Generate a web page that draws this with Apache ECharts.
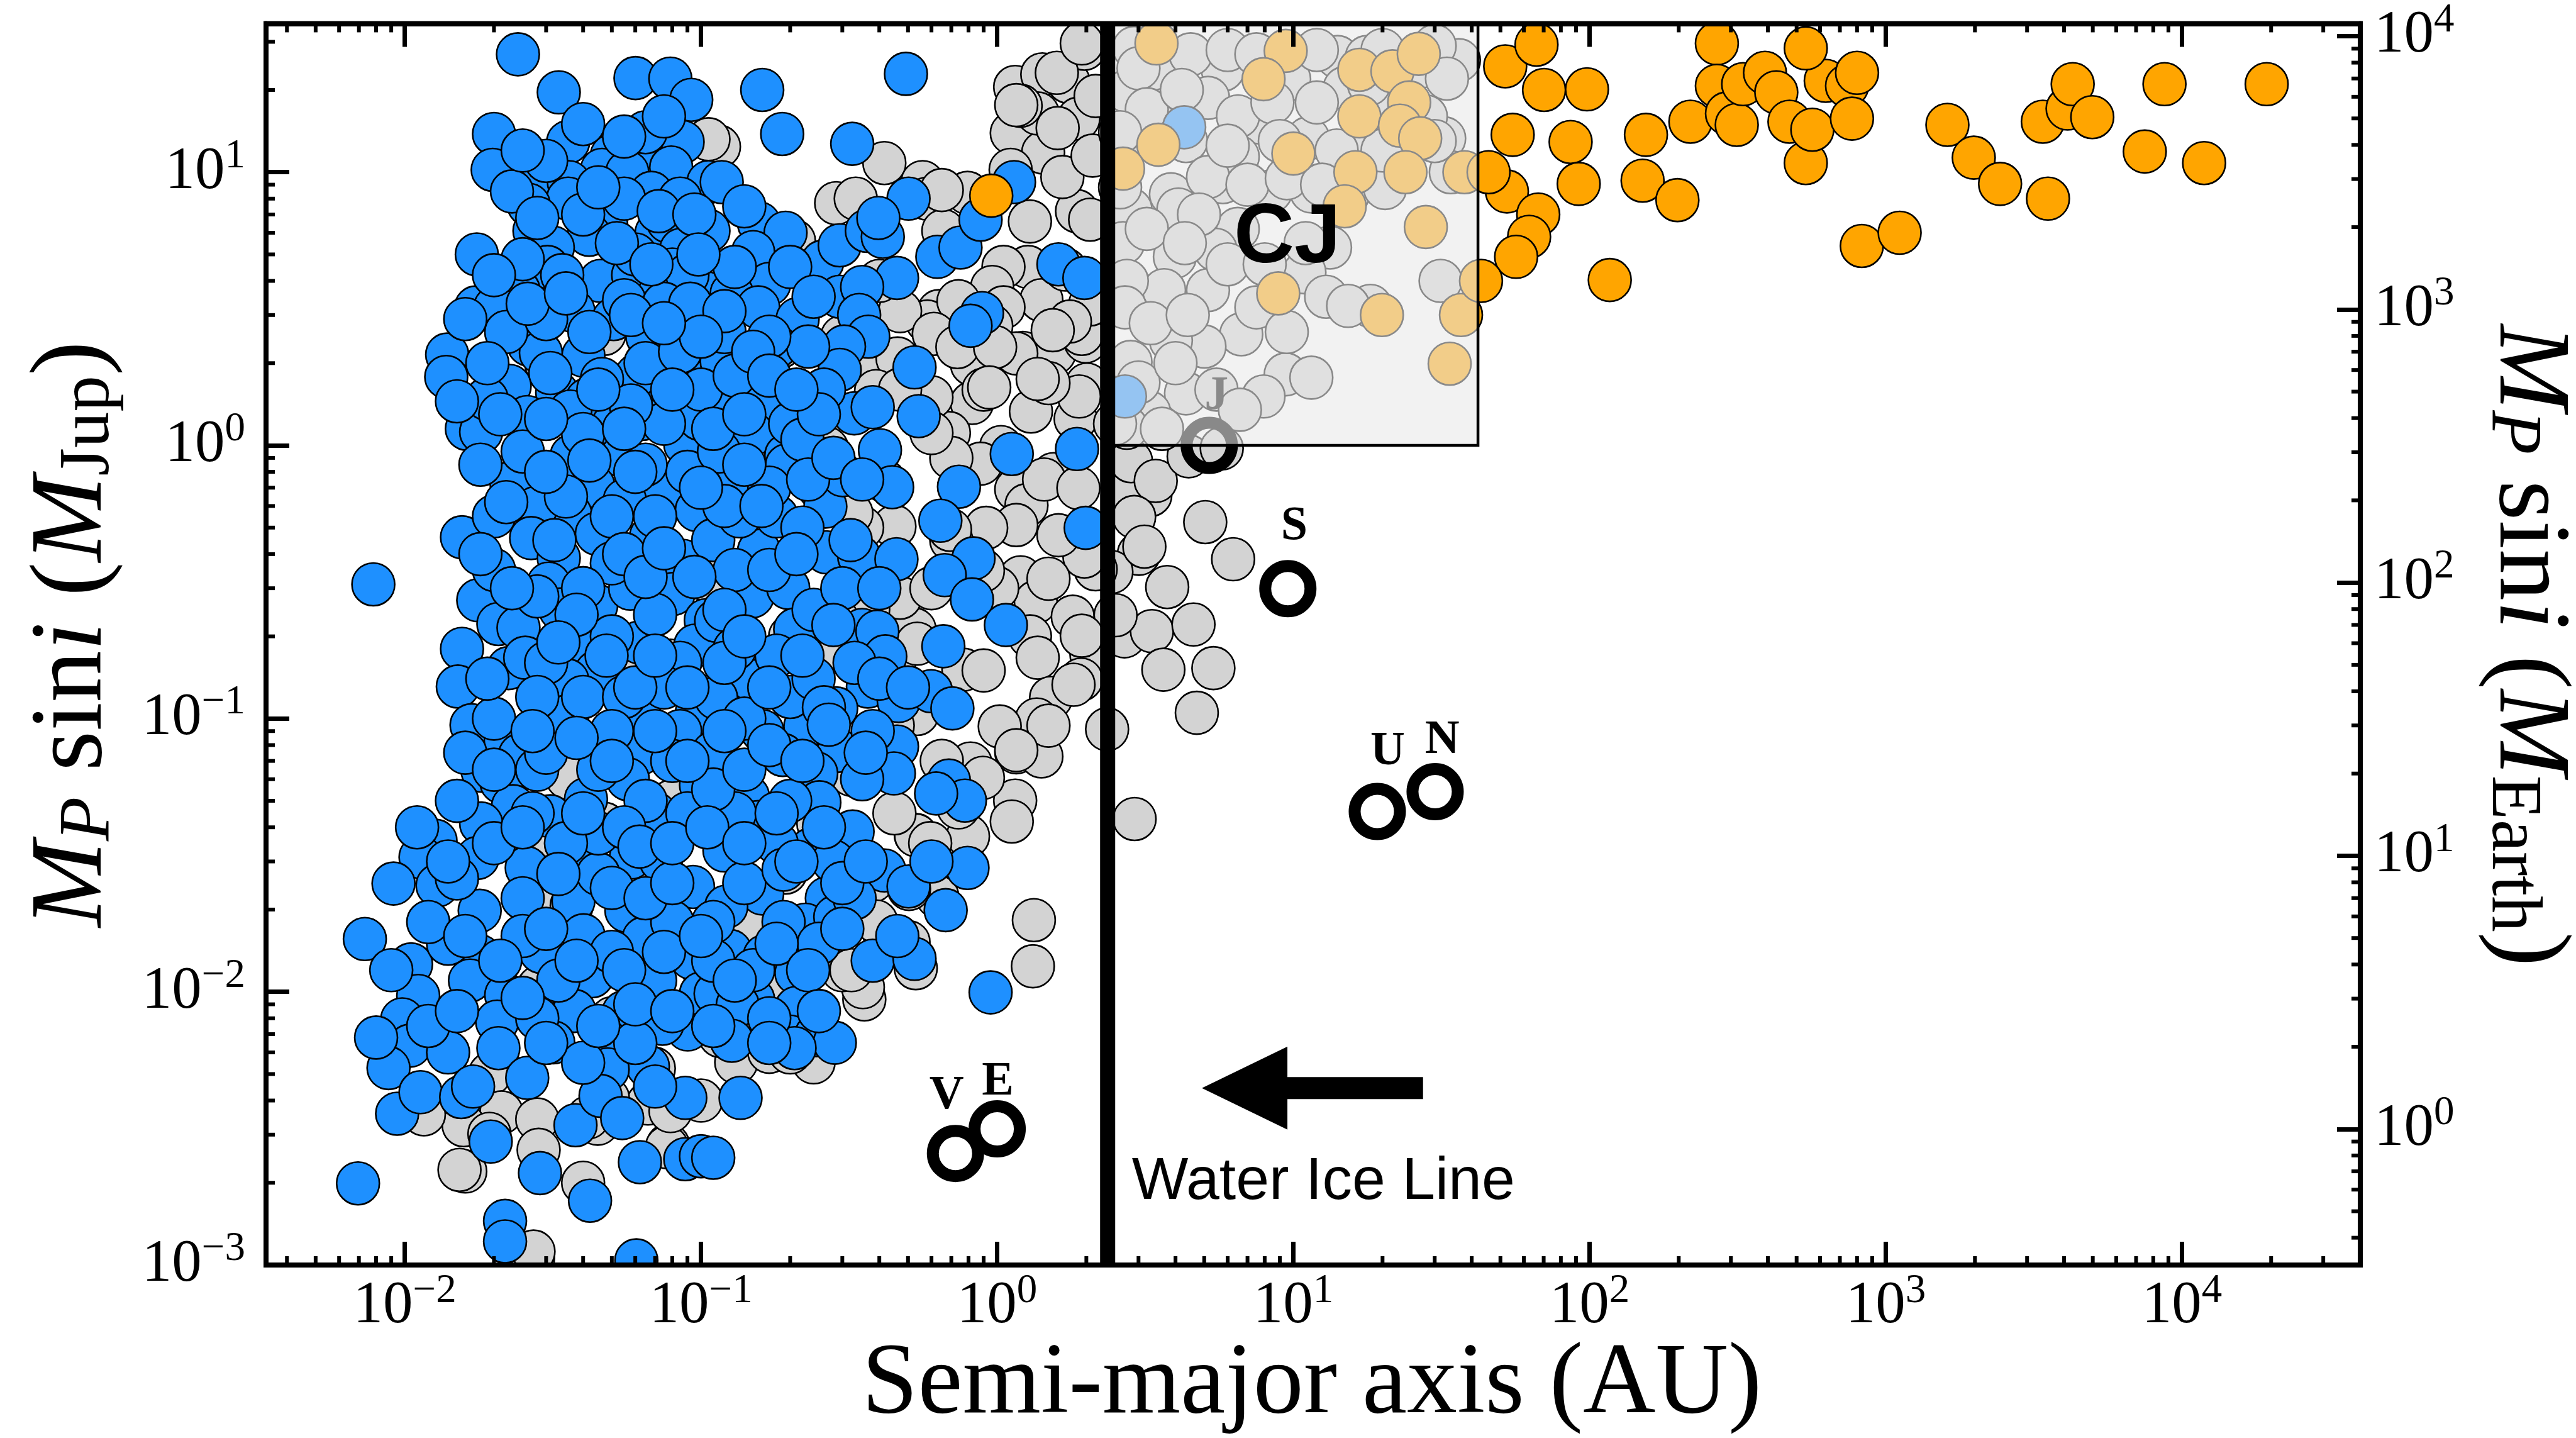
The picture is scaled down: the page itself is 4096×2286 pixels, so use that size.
<!DOCTYPE html>
<html><head><meta charset="utf-8">
<script src="https://cdn.jsdelivr.net/npm/echarts@6/dist/echarts.min.js"></script>
<style>html,body{margin:0;padding:0;background:#fff}#c{width:4096px;height:2286px}</style>
</head><body><div id="c"></div>
<script>
// ---------------- DATA ----------------
// semi-major axis (AU), M sin i (M_Jup)
const X_MIN = 0.0034, X_MAX = 40000;
const Y_MIN = 0.001, Y_MAX = 35;
const MJUP_IN_MEARTH = 317.83;
const xTickExps = [-2, -1, 0, 1, 2, 3, 4];
const yTickExps = [-3, -2, -1, 0, 1];
const yEarthTickExps = [0, 1, 2, 3, 4];
const ICE_LINE_AU = 2.36;
const cjBoxAU = [2.36, 42];
const cjBoxMJup = [1, 35];
const planetNames = ['V', 'E', 'J', 'S', 'U', 'N'];
const planetAU = [0.723, 1.0, 5.2, 9.58, 19.2, 30.1];
const planetMJup = [0.00256, 0.00315, 1.0, 0.299, 0.0457, 0.054];
const planetLabelAU = [0.675, 1.005, 5.5, 10.07, 20.8, 31.8];
const planetLabelMJup = [0.00415, 0.00466, 1.51, 0.505, 0.0755, 0.0832];
const cjLabel = ['CJ', 9.54, 5.67];
const iceLabel = ['Water Ice Line', 2.85, 0.00201];
const arrowAU = [27.4, 4.91];
const arrowMJup = 0.00444;

const graySample = [
[0.115,12.4],[0.416,10.8],[0.560,9.2],[0.286,7.7],[0.333,8.0],[0.581,8.0],[0.794,8.4],[0.658,6.1],
[1.15,20.5],[1.42,22.8],[1.74,21.4],[1.97,28.3],[1.12,13.9],[1.43,11.8],[1.88,15.7],[1.37,16.4],
[1.11,10.2],[1.86,7.2],[1.29,6.6],[1.66,9.6],[1.27,4.5],[1.05,4.5],[0.962,3.8],[1.41,3.4],[1.05,3.2],
[1.22,2.18],[1.56,2.18],[1.99,2.4],[0.822,1.98],[0.635,3.1],[0.581,2.84],[0.822,1.43],[1.30,1.33],
[1.84,1.25],[0.687,1.11],[0.220,1.43],[0.220,1.10],[0.206,5.6],[0.470,3.1],[0.385,1.98],[0.186,2.3],
[2.01,1.67],[1.03,0.986],[1.89,1.51],[1.16,0.69],[1.55,0.785],[2.15,19],[1.2,17.5],[1.6,14.5],
[1.256,0.604],[1.16,0.511],[1.44,0.75],[1.88,0.698],[1.20,0.329],[1.35,0.267],[1.80,0.236],[1.29,0.200],
[1.37,0.167],[2.08,0.172],[1.92,0.139],[1.52,0.119],[1.36,0.0993],[1.02,0.0936],[1.16,0.0753],[1.41,0.0727],
[0.813,0.0685],[1.15,0.0501],[1.12,0.042],[0.797,0.0371],[0.531,0.0375],[0.537,0.104],[0.526,0.212],
[0.470,0.277],[0.367,0.251],[0.288,0.231],[0.266,0.179],[0.450,0.505],[0.769,0.151],[0.918,0.499],[0.879,0.857],
[2.35,0.0914],[2.91,0.0429],[2.69,0.200],[3.33,0.209],[3.64,0.151],[3.01,0.401],[2.51,0.239],[2.43,0.344],
[3.29,0.658],[2.69,0.690],[2.15,0.352],[1.97,0.392],[1.61,0.469],
[2.83,0.875],[3.43,0.741],[4.43,0.912],[5.73,0.975],[6.26,0.383],[3.75,0.303],[4.60,0.221],[4.72,0.105],
[5.37,0.153],[2.90,0.547],[5.04,0.524],[3.14,0.426],
[0.0160,0.00220],[0.0194,0.00501],[0.0212,0.00362],[0.0158,0.00325],[0.0280,0.00341],[0.0448,0.00329],
[0.0662,0.0039],[0.0774,0.00275],[0.0271,0.00106],[0.0293,0.0374],
[0.532,0.0374],[1.33,0.0183],[1.32,0.0124],[0.356,0.00938],[0.416,0.0163],[0.502,0.0152],[0.531,0.0122],
[0.380,0.0255],[0.628,0.0223],[0.240,0.00552],[0.1315,0.00552],
[0.0153,0.00223],[0.0272,0.00112],[0.0767,0.0027],[0.0789,0.00366],[0.0116,0.00356],[0.352,0.0104],
[0.249,0.00851],[0.170,0.00603],[0.193,0.0123],[0.0485,0.00407],
[0.106,13.2],[0.108,0.98],[0.0354,0.0607],[0.0296,0.0375],[0.04,0.3],[0.06,0.15],[0.08,0.05],[0.03,0.02],
[0.05,0.008],[0.07,0.03],[0.1,0.1],[0.12,0.3],[0.09,1.5],[0.06,4],[0.03,2],[0.15,0.02],[0.2,0.2],[0.25,0.7],
[0.3,2.5],[0.4,4],[0.35,0.5],[0.45,0.15],[0.6,0.3],[0.7,0.9],[0.9,1.6],[0.6,1.5],[0.9,0.15],[0.7,0.45],
[1.0,0.3],[0.65,0.07],[0.45,0.045],[0.3,0.012],[0.2,0.006],[0.1,0.004],[0.04,0.002],
[0.650,8.6],[1.16,17.6],[1.59,23.1],[1.93,29.6],[2.06,6.7],[1.70,4.4],[1.93,2.56],[1.49,1.69],[1.16,2.17],
[0.955,2.74],[0.740,3.37],[0.611,2.56],[0.461,2.08],[0.390,1.58],[0.266,0.977],[0.416,0.741],[0.693,0.491],
[0.895,0.348],[1.49,0.325],[1.93,0.201],[1.81,0.133],[1.49,0.0942],[1.16,0.0766],[0.895,0.0607],[0.740,0.0473],
[0.594,0.0350],[0.504,0.0238],[0.390,0.0181],[0.322,0.0120],[0.170,0.0104],[0.116,0.0069],[0.0693,0.00524],
[0.0416,0.00347],[0.322,0.564],[0.219,0.428],[0.537,0.188],[0.444,0.0942],[0.322,0.0623],[0.249,0.0412],
[0.193,0.0273],[0.140,0.0181],[0.102,0.0120],[0.0789,0.00793],[0.0537,0.00601],[0.0283,0.00264],[0.0193,0.00302],
[0.170,1.12],[0.131,0.647],[0.102,0.325],[0.0789,0.163],[0.0611,0.082],[0.0472,0.0412],[0.0366,0.0207],
[0.0283,0.0104],[0.0283,0.163],[0.0366,0.647],[0.0472,2.56],[0.0693,5.1],
[2.10,11.5],[2.06,3.28],[1.76,2.84],[1.54,2.64],[0.734,2.29],[0.984,2.29],[1.37,1.75],[0.94,1.63],[0.60,1.11],[0.47,1.6],
[3.45,23.7],[5.78,23.7],[3.66,16.9],[5.15,18.7],[7.69,15.2],[9.68,21.9],[11.2,13.3],[14.1,26.4],[17.7,26.4],
[14.9,20.3],[36.2,25.7],[2.90,28.5],[2.74,19.8],[20.4,19.2],[32.3,13.3],[17.2,13.3],[2.99,13.3],[4.34,13.0],
[6.49,11.4],[5.78,9.2],[3.86,8.3],[5.15,9.6],[8.39,8.5],[11.5,8.5],[15.3,8.3],[20.4,8.75],[22.9,11.7],
[2.82,7.3],[4.09,7.3],[6.49,6.2],[13.3,5.3],[10.9,4.3],[2.66,5.5],[3.98,4.9],[5.46,5.2],[3.66,3.7],[5.15,3.7],
[2.74,4.0],[12.9,3.5],[18.2,3.24],[31.4,4.0],[6.67,2.55],[5.01,2.30],[3.86,2.42],[2.82,2.02],[9.42,1.82],
[11.5,1.77],[7.93,1.51],[4.34,1.55],[3.26,1.32],[2.74,1.16],[15.3,3.24],
[3.0,24],[4.5,27],[6.0,28],[7.5,27],[12,28],[20,28],[30,29],[3.2,17],[4.2,20],[6.5,16],[8.5,18],[12,18],
[18,21],[26,24],[33,22],[2.6,14],[6,12.5],[9,13],[14,12],[20,12],[28,16],[34,10],[30,13],[2.6,8.8],[4.8,7],
[7,9],[9.5,9.5],[12.5,9],[3.2,6.2],[4.3,5.5],[6,4.6],[8,4.6],[11,5.5],[2.7,3.2],[3.3,2.8],[4.4,3.0],[7.5,3.2],
[9.5,2.6],[3.0,1.7],[4.0,2.0],[5.5,1.6],[6.6,1.35],[2.5,1.2],[3.6,1.15]
];

const blueSample = [
[0.0241,27.0],[0.0331,19.6],[0.0601,22.1],[0.0788,22.0],[0.0927,18.4],[0.020,13.8],[0.0198,10.2],[0.0356,12.9],
[0.050,11.5],[0.0644,12.3],[0.0867,12.9],[0.0463,10.2],[0.0293,9.7],[0.0358,9.2],[0.0564,10.0],[0.0793,10.4],
[0.106,9.2],[0.068,8.4],[0.0356,8.0],[0.0262,7.6],[0.0463,6.9],[0.0479,6.4],[0.0274,6.1],[0.0419,5.9],
[0.0316,5.3],[0.0708,6.0],[0.0774,6.6],[0.0857,5.2],[0.106,6.1],[0.0175,5.0],[0.0303,4.5],[0.0458,4.0],
[0.059,4.2],[0.080,4.4],[0.105,3.6],[0.0242,3.7],[0.0174,3.2],[0.0202,3.2],[0.0371,3.1],[0.0507,2.9],
[0.0724,3.6],[0.0818,3.0],[0.0659,2.5],[0.0139,2.15],[0.0138,1.78],[0.0262,2.34],[0.0288,2.18],[0.0401,2.13],
[0.0226,1.65],[0.0327,1.56],[0.0412,1.47],[0.0885,1.93],[0.071,1.45],[0.0162,1.15],[0.0181,1.12],[0.0259,1.27],
[0.0362,1.33],[0.0505,1.19],[0.0366,0.916],[0.0885,1.01],[0.0634,1.25],[0.099,1.25],[0.0542,0.916],[0.108,2.9],
[0.0946,2.4],[0.0605,1.8],[0.0463,1.75],[0.0189,1.48],[0.031,1.84],
[0.492,22.9],[0.161,20.0],[0.188,13.8],[0.324,12.7],[0.1175,9.2],[0.157,6.5],[0.193,6.0],[0.150,5.1],
[0.257,4.7],[0.294,5.4],[0.363,6.1],[0.411,5.8],[0.502,8.0],[0.397,6.8],[0.628,4.9],[0.752,5.3],[0.879,6.7],
[1.14,9.2],[0.459,4.1],[0.170,3.9],[0.127,3.6],[0.156,3.2],[0.212,2.9],[0.294,3.5],[0.350,3.8],[0.342,3.0],
[0.367,2.5],[0.304,2.3],[0.294,1.89],[1.61,4.6],[1.97,4.1],[0.889,3.05],[0.813,2.74],[0.526,1.93],[0.1175,2.03],
[0.161,1.41],[0.329,1.31],[0.380,1.38],[0.543,1.28],[0.150,1.10],[0.194,0.92],[0.402,0.96],[1.12,0.93],[1.86,0.97],
[0.0229,0.73],[0.0433,0.71],[0.0757,0.69],[0.0968,0.58],[0.0362,0.56],[0.0277,0.59],[0.0553,0.63],[0.0267,0.458],
[0.0445,0.475],[0.0678,0.464],[0.0156,0.461],[0.00783,0.310],[0.0331,0.387],[0.0867,0.378],[0.0306,0.312],
[0.0177,0.271],[0.0335,0.251],[0.0443,0.260],[0.0577,0.299],[0.0807,0.286],[0.1038,0.229],[0.0207,0.222],
[0.0242,0.215],[0.0156,0.180],[0.0224,0.153],[0.0255,0.167],[0.0378,0.193],[0.0619,0.190],[0.0957,0.185],
[0.0151,0.131],[0.0443,0.148],[0.0354,0.138],[0.0168,0.0946],[0.0354,0.102],[0.0619,0.104],[0.1035,0.120],
[0.0968,0.105],[0.0219,0.083],[0.0245,0.0736],[0.0473,0.083],[0.0626,0.0745],[0.0183,0.0644],[0.0212,0.0585],
[0.0232,0.0478],[0.0566,0.060],[0.0409,0.0507],[0.100,0.0571],[0.0757,0.0394],[0.031,0.0439],[0.0181,0.0413],
[0.0127,0.0357],[0.0113,0.0311],[0.00916,0.0249],[0.0176,0.0309],[0.0258,0.0284],[0.0371,0.0303],[0.058,0.031],
[0.0733,0.0302],[0.094,0.0242],
[0.1315,0.738],[0.195,0.845],[0.263,0.597],[0.301,0.778],[0.442,0.703],[0.743,0.706],[0.643,0.530],[1.99,0.499],
[0.157,0.411],[0.265,0.406],[0.342,0.392],[0.457,0.383],[0.832,0.386],[0.665,0.335],[0.822,0.273],[1.07,0.220],
[0.149,0.280],[0.197,0.301],[0.1125,0.228],[0.208,0.212],[0.350,0.211],[0.394,0.208],[0.419,0.169],[0.658,0.184],
[0.150,0.137],[0.1125,0.119],[0.366,0.131],[0.286,0.109],[0.465,0.116],[0.598,0.126],[0.706,0.109],[0.161,0.090],
[0.225,0.0936],[0.292,0.0762],[0.459,0.079],[0.189,0.0736],[0.448,0.063],[0.687,0.0593],[0.778,0.0501],
[0.622,0.0532],[0.245,0.063],[0.251,0.0494],[0.144,0.0519],[0.156,0.0418],[0.325,0.0386],[0.120,0.0329],
[0.416,0.0278],[0.502,0.0243],[0.794,0.0284],
[0.0129,0.0245],[0.0179,0.0198],[0.0371,0.0215],[0.056,0.0198],[0.00733,0.0156],[0.0105,0.0126],[0.0179,0.0135],
[0.0288,0.0140],[0.0401,0.0161],[0.0641,0.0157],[0.0927,0.0133],[0.0429,0.0114],[0.0111,0.00966],[0.0166,0.0110],
[0.022,0.00973],[0.0098,0.00793],[0.0104,0.00635],[0.0205,0.00778],[0.0207,0.00622],[0.0374,0.00851],
[0.0548,0.00841],[0.0317,0.00653],[0.0484,0.00656],[0.0902,0.00728],[0.0741,0.00764],[0.0662,0.00533],
[0.0484,0.0052],[0.0885,0.00409],[0.100,0.00985],[0.00881,0.00526],[0.00942,0.00358],[0.0113,0.00429],
[0.0155,0.00412],[0.0259,0.00484],[0.0377,0.00325],[0.0458,0.00416],[0.0542,0.00345],[0.0195,0.00283],
[0.0622,0.00238],[0.0885,0.00244],[0.100,0.00250],[0.00695,0.00199],[0.0286,0.00217],[0.0422,0.00172],
[0.0218,0.00145],[0.0218,0.00122],[0.0605,0.00104],
[0.235,0.0332],[0.670,0.0199],[0.161,0.0229],[0.1217,0.0205],[0.266,0.0220],[0.225,0.0176],[0.284,0.0188],
[0.1256,0.0141],[0.164,0.0135],[0.210,0.0117],[0.380,0.0130],[0.526,0.0132],[0.950,0.00995],[0.112,0.00985],
[0.150,0.00938],[0.210,0.00873],[0.133,0.00894],[0.127,0.00662],[0.199,0.00686],[0.245,0.00694],[0.283,0.00651],
[0.207,0.00622],[0.136,0.00409],[0.110,0.00247],
[4.28,14.6],[2.70,1.51],
[0.09,0.8],[0.065,0.85],[0.11,0.45],[0.05,0.37],[0.12,1.5],[0.135,0.55],[0.18,0.55],[0.115,0.95],[0.2,1.2],
[0.13,4.5],[0.12,2.6],[0.18,2.3],[0.14,7.5],[0.015,0.05],[0.028,0.065],[0.045,0.027],[0.08,0.018],[0.07,0.045],
[0.045,0.038],[0.022,2.6],[0.019,2.0],[0.03,2.9],[0.055,3.4],[0.065,2.0],[0.085,2.2],[0.04,1.1],[0.025,0.95],
[0.075,1.2],[0.1,1.6],[0.058,1.4],[0.034,4.2],[0.025,4.8],[0.06,5.0],[0.09,4.2],[0.075,3.3],[0.04,7.0],[0.055,8.0],
[0.085,8.0],[0.03,11],[0.065,14],[0.02,0.35],[0.028,0.28],[0.04,0.3],[0.05,0.2],[0.07,0.24],[0.085,0.16],
[0.03,0.16],[0.04,0.12],[0.055,0.12],[0.075,0.13],[0.085,0.09],[0.045,0.065],[0.03,0.075],[0.065,0.05],[0.08,0.07],
[0.02,0.1],[0.05,0.09],[0.09,0.045],[0.027,0.045],[0.035,0.035],[0.02,0.55],[0.06,0.8],[0.035,0.65],
[0.015,0.026],[0.025,0.022],[0.033,0.027],[0.05,0.024],[0.065,0.022],[0.08,0.025],[0.025,0.016],[0.05,0.014],
[0.07,0.011],[0.033,0.011],[0.014,0.015],[0.06,0.0065],[0.028,0.008],[0.04,0.0055],[0.07,0.0045],[0.014,0.006],
[0.017,0.0045],[0.12,0.6],[0.17,0.7],[0.22,0.5],[0.13,0.35],[0.18,0.17],[0.24,0.25],[0.3,0.3],[0.13,0.18],
[0.2,0.12],[0.11,0.075],[0.14,0.1],[0.24,0.14],[0.33,0.16],[0.13,0.045],[0.2,0.05],[0.35,0.06],[0.18,0.035],
[0.11,0.055],[0.38,0.09],[0.14,0.025],[0.19,0.028],[0.28,0.03],[0.11,0.018],[0.19,0.018],[0.33,0.022],
[0.15,0.012],[0.25,0.015],[0.17,0.008],[0.11,0.013],[0.2,4.5],[0.24,3.5],[0.23,2.3],[0.17,2.5],[0.26,1.6],
[0.13,1.8],[0.22,1.05],
[0.023,8.5],[0.045,8.8],[0.072,7.2],[0.095,7.0],[0.028,6.8],[0.052,5.5],[0.098,5.0],
[0.016,2.9],[0.02,4.2],[0.026,3.3],[0.035,3.6],[0.042,2.6],[0.058,3.0],[0.068,4.6],[0.092,3.3],[0.12,3.1],
[0.15,2.2],[0.1,2.5],[0.075,2.8],
[0.015,1.45],[0.021,1.3],[0.03,1.25],[0.045,1.6],[0.055,1.15],[0.08,1.6],[0.11,1.15],[0.14,1.3],[0.17,1.8],
[0.25,1.3],[0.21,1.6],
[0.018,0.85],[0.022,0.62],[0.03,0.8],[0.042,0.88],[0.05,0.55],[0.07,0.55],[0.1,0.7],[0.14,0.85],[0.16,0.6],
[0.23,0.75],[0.28,0.9],[0.35,0.75],
[0.018,0.4],[0.023,0.3],[0.032,0.45],[0.038,0.24],[0.055,0.4],[0.065,0.33],[0.075,0.42],[0.095,0.33],[0.12,0.25],
[0.17,0.35],[0.21,0.4],[0.28,0.22],[0.32,0.45],[0.4,0.3],
[0.019,0.14],[0.028,0.12],[0.033,0.19],[0.048,0.17],[0.06,0.13],[0.07,0.17],[0.09,0.13],[0.12,0.16],[0.17,0.13],
[0.22,0.17],[0.26,0.11],[0.4,0.14],[0.5,0.13],[0.14,0.2],
[0.016,0.075],[0.02,0.065],[0.027,0.09],[0.038,0.085],[0.05,0.07],[0.07,0.09],[0.09,0.07],[0.12,0.09],[0.14,0.065],
[0.17,0.08],[0.22,0.07],[0.27,0.095],[0.36,0.075],
[0.011,0.04],[0.014,0.03],[0.02,0.035],[0.025,0.04],[0.04,0.045],[0.055,0.04],[0.062,0.034],[0.08,0.035],
[0.105,0.04],[0.14,0.035],[0.18,0.045],[0.21,0.03],[0.26,0.04],[0.3,0.025],[0.36,0.03],[0.6,0.03],
[0.009,0.012],[0.012,0.018],[0.016,0.016],[0.021,0.013],[0.03,0.017],[0.038,0.013],[0.055,0.012],[0.075,0.014],
[0.1,0.016],[0.13,0.011],[0.18,0.015],[0.23,0.012],[0.3,0.017],[0.46,0.016],
[0.008,0.0068],[0.012,0.0075],[0.015,0.0085],[0.025,0.0095],[0.03,0.0065],[0.045,0.0075],[0.06,0.009],
[0.08,0.0085],[0.11,0.0075],[0.17,0.0065],[0.25,0.0085],
[0.025,12],[0.04,15],[0.055,13.5],[0.075,16]
];

const orangeSample = [
[0.955,8.2],
[3.45,29.6],[9.42,27.8],[7.93,21.9],[16.7,23.7],[21.6,23.4],[26.5,27.1],[24.6,18.0],[16.7,16.0],[22.9,14.8],
[26.8,13.3],[3.50,12.6],[2.66,10.3],[10.0,11.7],[16.2,10.0],[23.9,10.0],[37.8,10.0],[14.9,7.5],[28.0,6.3],
[8.89,3.6],[19.9,3.0],[36.8,3.0],[33.7,1.99],
[51.9,24.4],[66.2,29.3],[70.2,20.0],[98.0,20.1],[55.0,13.7],[86.3,12.9],[91.9,9.06],[52.6,8.5],[67.1,7.0],
[62.5,5.8],[56.5,4.9],[43.0,4.0],[45.6,10.0],[117,4.03],[155,13.7],[151,9.31],[198,7.90],[219,15.3],[269,29.6],
[269,20.7],[291,16.4],[314,14.9],[330,21.0],[391,23.1],[427,19.6],[473,15.3],[537,10.8],[565,14.3],[627,21.6],
[537,28.4],[740,20.7],[769,15.7],[800,23.1],[830,5.37],[1114,6.0],[1615,14.9],[1982,11.3],[2432,9.06],
[3529,8.0],[3390,15.3],[4110,17.1],[4276,21.0],[4980,15.9],[8730,21.0],[7490,11.9],[11880,10.8],[19320,21.0]
];

// ---------------- STYLE ----------------
const SERIF = '"Liberation Serif", "DejaVu Serif", serif';
const SANS = '"Liberation Sans", Arial, sans-serif';
const POINT_R = 34, POINT_EDGE = 2.6;
const FRAME_W = 8, MAJOR_LEN = 37, MAJOR_W = 7, MINOR_LEN = 14, MINOR_W = 6;

function expLabel(exps) {
  return function (v) {
    const l = Math.log10(v), e = Math.round(l);
    if (Math.abs(l - e) > 1e-6 || exps.indexOf(e) < 0) return '';
    return '{b|10}{s|' + (e < 0 ? '\u2212' + (-e) : String(e)) + '}';
  };
}
const tickRich = {
  b: { fontFamily: SERIF, fontSize: 95, lineHeight: 115, verticalAlign: 'middle', color: '#000' },
  s: { fontFamily: SERIF, fontSize: 65, lineHeight: 65, verticalAlign: 'top', color: '#000' }
};

function minorValues(lo, hi) {
  const out = [];
  for (let k = Math.floor(Math.log10(lo)); k <= Math.ceil(Math.log10(hi)); k++) {
    for (let m = 2; m <= 9; m++) {
      const v = m * Math.pow(10, k);
      if (v > lo && v < hi) out.push(v);
    }
  }
  return out;
}

function circleRenderer(fill) {
  return function (params, api) {
    const p = api.coord([api.value(0), api.value(1)]);
    return { type: 'circle', shape: { cx: p[0], cy: p[1], r: POINT_R },
      style: { fill: fill, stroke: '#000', lineWidth: POINT_EDGE } };
  };
}

const axisBase = {
  type: 'log', logBase: 10, gridIndex: 0, z: 20,
  splitLine: { show: false },
  axisLine: { show: true, onZero: false, lineStyle: { color: '#000', width: FRAME_W } },
  axisTick: { show: true, inside: true, length: MAJOR_LEN, lineStyle: { color: '#000', width: MAJOR_W } }
};

const chart = echarts.init(document.getElementById('c'), null, { renderer: 'canvas' });

const xMinor = minorValues(X_MIN, X_MAX).map(v => [v, Y_MIN]);
const yMinor = minorValues(Y_MIN, Y_MAX).map(v => [X_MIN, v]);
const yEarthMinor = minorValues(Y_MIN * MJUP_IN_MEARTH, Y_MAX * MJUP_IN_MEARTH).map(v => [X_MIN, v]);

const titleRich = {
  i: { fontFamily: SERIF, fontStyle: 'italic', fontSize: 164, lineHeight: 178, verticalAlign: 'bottom', fill: '#000' },
  r: { fontFamily: SERIF, fontSize: 164, lineHeight: 178, verticalAlign: 'bottom', fill: '#000' },
  is: { fontFamily: SERIF, fontStyle: 'italic', fontSize: 115, lineHeight: 126, verticalAlign: 'bottom', fill: '#000' },
  rs: { fontFamily: SERIF, fontSize: 115, lineHeight: 126, verticalAlign: 'bottom', fill: '#000' }
};

const option = {
  animation: false,
  backgroundColor: '#fff',
  grid: { left: 423, top: 27, right: 343, bottom: 275, show: true, borderColor: '#000', borderWidth: FRAME_W, containLabel: false },
  xAxis: [
    Object.assign({}, axisBase, { position: 'bottom', min: X_MIN, max: X_MAX,
      axisLabel: { show: true, margin: 9, formatter: expLabel(xTickExps), rich: tickRich } }),
    Object.assign({}, axisBase, { position: 'top', min: X_MIN, max: X_MAX, axisLabel: { show: false } })
  ],
  yAxis: [
    Object.assign({}, axisBase, { position: 'left', min: Y_MIN, max: Y_MAX,
      axisLabel: { show: true, margin: 33, formatter: expLabel(yTickExps), rich: tickRich } }),
    Object.assign({}, axisBase, { position: 'right', min: Y_MIN * MJUP_IN_MEARTH, max: Y_MAX * MJUP_IN_MEARTH,
      axisLabel: { show: true, margin: 22, formatter: expLabel(yEarthTickExps), rich: tickRich } })
  ],
  graphic: [
    { type: 'text', x: 2086, y: 2203, z: 30,
      style: { text: 'Semi-major axis (AU)', font: '160px ' + SERIF, fill: '#000', align: 'center', verticalAlign: 'middle' } },
    { type: 'text', x: 110, y: 1008, rotation: Math.PI / 2, z: 30,
      style: { text: '{i|M}{is|P}{r| sin}{i|i}{r| (}{i|M}{rs|Jup}{r|)}', align: 'center', verticalAlign: 'middle', rich: titleRich } },
    { type: 'text', x: 4026, y: 1026, rotation: -Math.PI / 2, z: 30,
      style: { text: '{i|M}{is|P}{r| sin}{i|i}{r| (}{i|M}{rs|Earth}{r|)}', align: 'center', verticalAlign: 'middle', rich: titleRich } }
  ],
  series: [
    { type: 'custom', name: 'gray', z: 2, clip: true, silent: true, data: graySample, renderItem: circleRenderer('#d3d3d3') },
    { type: 'custom', name: 'blue', z: 3, clip: true, silent: true, data: blueSample, renderItem: circleRenderer('#1e90ff') },
    { type: 'custom', name: 'orange', z: 4, clip: true, silent: true, data: orangeSample, renderItem: circleRenderer('#ffa500') },
    { type: 'scatter', name: 'planets', z: 5, silent: true, symbol: 'circle', symbolSize: 72,
      itemStyle: { color: 'rgba(0,0,0,0)', borderColor: '#000', borderWidth: 19, opacity: 1 },
      data: planetAU.map((a, i) => [a, planetMJup[i]]) },
    { type: 'custom', name: 'planetLabels', z: 5, silent: true,
      data: planetLabelAU.map((a, i) => [a, planetLabelMJup[i]]),
      renderItem: function (params, api) {
        const p = api.coord([api.value(0), api.value(1)]);
        return { type: 'text', x: p[0], y: p[1], style: { text: planetNames[params.dataIndex],
          font: 'bold 76px ' + SERIF, fill: '#000', align: 'center', verticalAlign: 'middle' } };
      } },
    { type: 'custom', name: 'cjBox', z: 6, clip: true, silent: true,
      data: [[cjBoxAU[0], cjBoxMJup[0], cjBoxAU[1], cjBoxMJup[1]]],
      renderItem: function (params, api) {
        const p0 = api.coord([api.value(0), api.value(1)]);
        const p1 = api.coord([api.value(2), api.value(3)]);
        return { type: 'rect', shape: { x: p0[0], y: p1[1], width: p1[0] - p0[0], height: p0[1] - p1[1] },
          style: { fill: 'rgba(233,233,233,0.59)', stroke: '#000', lineWidth: 4.5 } };
      } },
    { type: 'custom', name: 'annotations', z: 7, silent: true,
      data: [[cjLabel[1], cjLabel[2]], [iceLabel[1], iceLabel[2]]],
      renderItem: function (params, api) {
        const p = api.coord([api.value(0), api.value(1)]);
        if (params.dataIndex === 0) {
          return { type: 'text', x: p[0], y: p[1], style: { text: cjLabel[0], font: 'bold 133px ' + SANS, fill: '#000', align: 'center', verticalAlign: 'middle' } };
        }
        return { type: 'text', x: p[0], y: p[1], style: { text: iceLabel[0], font: '95px ' + SANS, fill: '#000', align: 'left', verticalAlign: 'middle' } };
      } },
    { type: 'custom', name: 'arrow', z: 7, silent: true,
      data: [[arrowAU[0], arrowMJup, arrowAU[1], arrowMJup]],
      renderItem: function (params, api) {
        const tail = api.coord([api.value(0), api.value(1)]);
        const tip = api.coord([api.value(2), api.value(3)]);
        const hl = 136, hh = 66, sh = 17.5, y = tip[1];
        return { type: 'polygon', shape: { points: [
          [tip[0], y], [tip[0] + hl, y - hh], [tip[0] + hl, y - sh], [tail[0], y - sh],
          [tail[0], y + sh], [tip[0] + hl, y + sh], [tip[0] + hl, y + hh]] },
          style: { fill: '#000' } };
      } },
    { type: 'custom', name: 'iceLine', z: 8, silent: true,
      data: [[ICE_LINE_AU, Y_MIN]],
      renderItem: function (params, api) {
        const p = api.coord([api.value(0), api.value(1)]);
        const cs = params.coordSys;
        return { type: 'line', shape: { x1: p[0], y1: cs.y, x2: p[0], y2: cs.y + cs.height + 4 },
          style: { stroke: '#000', lineWidth: 24 } };
      } },
    { type: 'custom', name: 'xMinor', z: 21, silent: true, data: xMinor,
      renderItem: function (params, api) {
        const p = api.coord([api.value(0), api.value(1)]);
        const cs = params.coordSys;
        return { type: 'group', children: [
          { type: 'line', shape: { x1: p[0], y1: cs.y + cs.height, x2: p[0], y2: cs.y + cs.height - MINOR_LEN }, style: { stroke: '#000', lineWidth: MINOR_W } },
          { type: 'line', shape: { x1: p[0], y1: cs.y, x2: p[0], y2: cs.y + MINOR_LEN }, style: { stroke: '#000', lineWidth: MINOR_W } }
        ] };
      } },
    { type: 'custom', name: 'yMinor', z: 21, silent: true, data: yMinor,
      renderItem: function (params, api) {
        const p = api.coord([api.value(0), api.value(1)]);
        const cs = params.coordSys;
        return { type: 'line', shape: { x1: cs.x, y1: p[1], x2: cs.x + MINOR_LEN, y2: p[1] }, style: { stroke: '#000', lineWidth: MINOR_W } };
      } },
    { type: 'custom', name: 'yEarthMinor', z: 21, silent: true, yAxisIndex: 1, data: yEarthMinor,
      renderItem: function (params, api) {
        const p = api.coord([api.value(0), api.value(1)]);
        const cs = params.coordSys;
        return { type: 'line', shape: { x1: cs.x + cs.width, y1: p[1], x2: cs.x + cs.width - MINOR_LEN, y2: p[1] }, style: { stroke: '#000', lineWidth: MINOR_W } };
      } }
  ]
};
chart.setOption(option);
</script></body></html>
